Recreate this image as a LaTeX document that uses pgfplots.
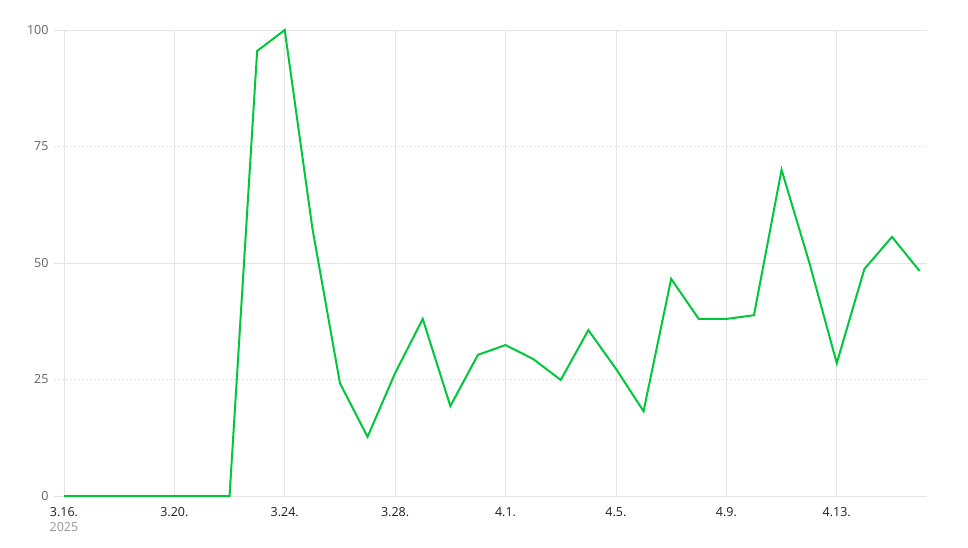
\documentclass[border=0pt]{standalone}
\usepackage{pgfplots}
\pgfplotsset{compat=1.18}
\usepackage{fontspec}
\setmainfont{Open Sans}
\definecolor{linegreen}{RGB}{0,199,60}
\definecolor{gridgray}{RGB}{228,228,228}
\definecolor{ylab}{RGB}{100,100,100}
\definecolor{xlab}{RGB}{30,30,30}
\definecolor{yearcol}{RGB}{150,150,150}
\begin{document}
\begin{tikzpicture}
\path[use as bounding box] (-54pt,-51pt) rectangle (914pt,496pt);
\begin{axis}[
  at={(0pt,0pt)}, anchor=south west,
  scale only axis, width=873pt, height=466pt,
  xmin=-0.36, xmax=31.27, ymin=0, ymax=100,
  axis line style={draw=none},
  tick style={draw=none},
  major tick length=0pt,
  ytick={0,50,100},
  extra y ticks={25,75},
  extra y tick style={grid style={gridgray, dash pattern=on 2pt off 2pt, line width=0.8pt}},
  xtick={0,4,8,12,16,20,24,28},
  xticklabels={{3.16.\\[1pt]\textcolor{yearcol}{2025}},3.20.,3.24.,3.28.,4.1.,4.5.,4.9.,4.13.},
  xticklabel style={align=center, anchor=north, yshift=-8pt, text=xlab, font=\fontsize{12.5}{14}\selectfont},
  yticklabel style={text=ylab, anchor=east, xshift=-2pt, font=\fontsize{12.5}{14}\selectfont},
  /pgf/number format/assume math mode=true,
  grid=major,
  major grid style={gridgray, line width=0.8pt},
  clip=false,
]
\addplot[linegreen, line width=2pt, line join=miter] coordinates {
(0,0) (1,0) (2,0) (3,0) (4,0) (5,0) (6,0)
(7,95.5) (8,100) (9,57.5) (10,24.2) (11,12.7) (12,26.4) (13,38)
(14,19.3) (15,30.3) (16,32.4) (17,29.4) (18,24.9) (19,35.6) (20,27.3)
(21,18.2) (22,46.6) (23,38) (24,38) (25,38.8) (26,70) (27,50.2)
(28,28.5) (29,48.7) (30,55.6) (31,48.3)
};
\end{axis}
\end{tikzpicture}
\end{document}
